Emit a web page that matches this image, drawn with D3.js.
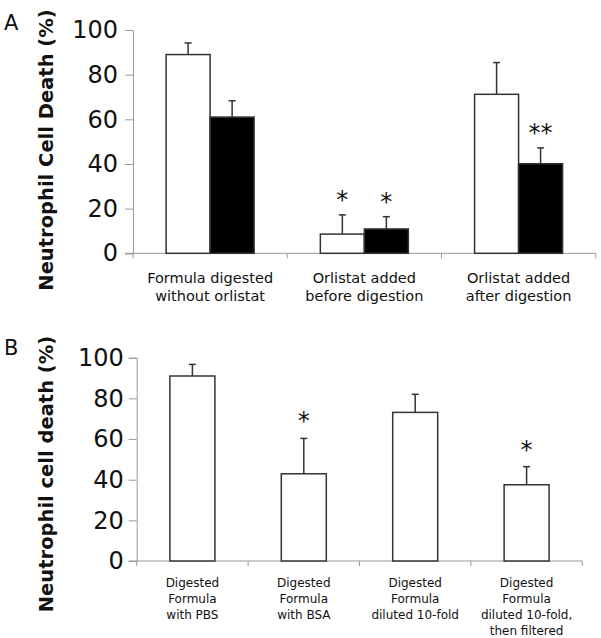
<!DOCTYPE html>
<html><head><meta charset="utf-8">
<script src="https://cdn.jsdelivr.net/npm/d3@7"></script>
<style>body{margin:0;background:#fff}svg{display:block}</style>
</head><body>
<svg id="c" width="601" height="638"></svg>
<script>
// Panel A data
const catsA = [["Formula digested","without orlistat"],["Orlistat added","before digestion"],["Orlistat added","after digestion"]];
const whiteA = [89, 8.6, 71.2];
const whiteErrA = [5.2, 8.6, 14.2];
const blackA = [61, 10.9, 40.1];
const blackErrA = [7.3, 5.5, 7.1];
const whiteSigA = ["", "*", ""];
const blackSigA = ["", "*", "**"];
const ticksY = [0, 20, 40, 60, 80, 100];
const titleA = "Neutrophil Cell Death (%)";
// Panel B data
const catsB = [["Digested","Formula","with PBS"],["Digested","Formula","with BSA"],["Digested","Formula","diluted 10-fold"],["Digested","Formula","diluted 10-fold,","then filtered"]];
const valsB = [91, 42.9, 73.1, 37.5];
const errB = [5.7, 17.4, 8.9, 8.9];
const sigB = ["", "*", "", "*"];
const titleB = "Neutrophil cell death (%)";

const svg = d3.select("#c");
const font = "DejaVu Sans, Verdana, sans-serif";
const axisCol = "#9a9a9a", barCol = "#333";

function panel(o){
  const g = svg.append("g");
  const y = d3.scaleLinear().domain([0,100]).range([o.y0, o.y1]);
  const x = d3.scaleBand().domain(d3.range(o.cats.length)).range([o.x0, o.x1]).padding(0);
  // y axis
  const ax = g.append("g").attr("transform",`translate(${o.x0},0)`)
    .call(d3.axisLeft(y).tickValues(ticksY).tickSize(8).tickPadding(o.tickPad).tickFormat(d3.format("d")));
  ax.select(".domain").attr("stroke", axisCol);
  ax.selectAll(".tick line").attr("stroke", axisCol);
  ax.selectAll(".tick text").attr("font-family", font).attr("font-size", 24).attr("fill","#111");
  // x axis line
  g.append("line").attr("x1", o.x0-8).attr("x2", o.x1).attr("y1", y(0)).attr("y2", y(0)).attr("stroke", axisCol);
  const bounds = o.cats.map((c,i)=>x(i)).concat([o.x1]);
  g.selectAll(".xt").data(bounds).join("line").attr("x1",d=>d).attr("x2",d=>d)
    .attr("y1", y(0)).attr("y2", y(0)+5).attr("stroke", axisCol);
  // category labels
  o.cats.forEach((lines,i)=>{
    const t = g.append("text").attr("font-family", font).attr("font-size", o.catFont)
      .attr("text-anchor","middle").attr("fill","#111");
    lines.forEach((l,j)=>t.append("tspan").attr("x", x(i)+x.bandwidth()/2).attr("y", o.catY + j*o.catLH).text(l));
  });
  // bars
  o.series.forEach((s,si)=>{
    s.vals.forEach((v,i)=>{
      const cx = x(i)+x.bandwidth()/2;
      const bx = cx - o.series.length*o.bw/2 + si*o.bw;
      g.append("rect").attr("x", bx).attr("y", y(v)).attr("width", o.bw).attr("height", y(0)-y(v))
        .attr("fill", s.fill).attr("stroke", barCol).attr("stroke-width", 1.5);
      const mx = bx + o.bw/2, et = y(v + s.err[i]);
      g.append("line").attr("x1",mx).attr("x2",mx).attr("y1",y(v)).attr("y2",et).attr("stroke",barCol).attr("stroke-width",1.5);
      g.append("line").attr("x1",mx-3.5).attr("x2",mx+3.5).attr("y1",et).attr("y2",et).attr("stroke",barCol).attr("stroke-width",1.5);
      if (s.sig[i]) g.append("text").attr("x", mx).attr("y", et - o.sigOff).attr("text-anchor","middle")
        .attr("font-family", font).attr("font-size", 24).attr("fill","#111").text(s.sig[i]);
    });
  });
  // y title
  g.append("text").attr("transform",`translate(${o.titleX},${o.titleY}) rotate(-90)`)
    .attr("text-anchor","middle").attr("font-family", font).attr("font-weight","bold")
    .attr("font-size", 19.5).attr("fill","#111").text(o.title);
  // panel letter
  g.append("text").attr("x", o.letterX).attr("y", o.letterY).attr("font-family", font)
    .attr("font-size", 21).attr("fill","#111").text(o.letter);
}

panel({cats: catsA, x0:133, x1:595.7, y0:253.3, y1:30, tickPad:7, bw:44,
  series:[{vals:whiteA, err:whiteErrA, sig:whiteSigA, fill:"#fff"},{vals:blackA, err:blackErrA, sig:blackSigA, fill:"#000"}],
  catFont:14.5, catY:283, catLH:17.5, sigOff:7, title:titleA, titleX:53, titleY:150, letter:"A", letterX:4, letterY:30});

panel({cats: catsB, x0:136.7, x1:582.3, y0:561, y1:357.7, tickPad:5, bw:45,
  series:[{vals:valsB, err:errB, sig:sigB, fill:"#fff"}],
  catFont:12, catY:586.5, catLH:16, sigOff:9, title:titleB, titleX:53, titleY:474, letter:"B", letterX:4, letterY:355});
</script>
</body></html>
